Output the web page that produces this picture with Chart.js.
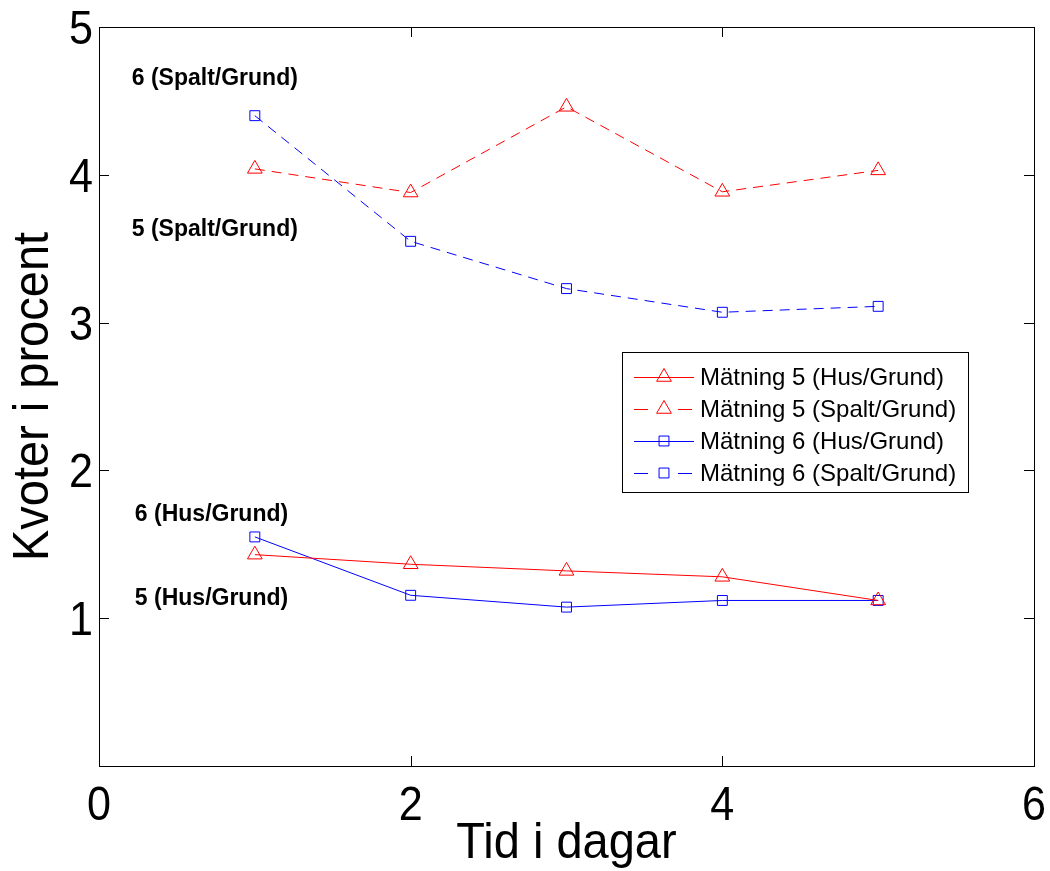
<!DOCTYPE html>
<html>
<head>
<meta charset="utf-8">
<script src="https://cdn.jsdelivr.net/npm/chart.js@4/dist/chart.umd.min.js"></script>
<style>
  html, body { margin: 0; padding: 0; background: #fff; }
  #wrap { width: 1050px; height: 871px; position: relative; }
</style>
</head>
<body>
<div id="wrap"><canvas id="chart"></canvas></div>
<script>
// ── Data ──────────────────────────────────────────────────────
const days = [1, 2, 3, 4, 5];
const m5Hus   = [1.43, 1.365, 1.32, 1.28, 1.12];
const m5Spalt = [4.04, 3.88, 4.46, 3.885, 4.03];
const m6Hus   = [1.55, 1.155, 1.075, 1.12, 1.12];
const m6Spalt = [4.40, 3.55, 3.23, 3.07, 3.11];
const seriesNames = [
    'Mätning 5 (Hus/Grund)',
    'Mätning 5 (Spalt/Grund)',
    'Mätning 6 (Hus/Grund)',
    'Mätning 6 (Spalt/Grund)'
];
const xTicks = [0, 2, 4, 6];
const yTicks = [0, 1, 2, 3, 4, 5];
const yTickLabels = ['', '1', '2', '3', '4', '5'];
const noteTexts = ['6 (Spalt/Grund)', '5 (Spalt/Grund)', '6 (Hus/Grund)', '5 (Hus/Grund)'];
const noteX = [0.21, 0.21, 0.23, 0.23];
const noteY = [4.65, 3.63, 1.70, 1.13];

const RED = '#ff0000';
const BLUE = '#0000ff';
const DASH = [10, 7];
const SANS = "'Liberation Sans', Arial, Helvetica, sans-serif";

const pts = arr => arr.map((v, i) => ({ x: days[i], y: v }));

function makeSet(label, data, color, dashed, shape) {
    return {
        label,
        data: pts(data),
        borderColor: color,
        backgroundColor: 'rgba(0,0,0,0)',
        borderWidth: 1,
        borderDash: dashed ? DASH : [],
        pointStyle: shape,
        pointRadius: shape === 'triangle' ? 8.5 : 7,
        pointBorderColor: color,
        pointBorderWidth: 1,
        pointBackgroundColor: 'rgba(0,0,0,0)',
        tension: 0,
        fill: false
    };
}

// narrow (horizontally squeezed) text, like the stretched figure fonts
function narrowText(ctx, text, x, y, size, squeeze, align, rotate) {
    ctx.save();
    ctx.translate(x, y);
    if (rotate) ctx.rotate(-Math.PI / 2);
    ctx.scale(squeeze, 1);
    ctx.font = size + 'px ' + SANS;
    ctx.textAlign = align;
    ctx.fillText(text, 0, 0);
    ctx.restore();
}

// ── Box, inward ticks, labels, notes and legend ──────────────
const matlabLook = {
    id: 'matlabLook',
    afterDatasetsDraw(chart) {
        const { ctx, chartArea: a, scales } = chart;
        const xs = scales.x, ys = scales.y;
        ctx.save();
        ctx.strokeStyle = '#000';
        ctx.lineWidth = 1;
        ctx.strokeRect(Math.round(a.left) + 0.5, Math.round(a.top) + 0.5,
            Math.round(a.right - a.left), Math.round(a.bottom - a.top));

        const tl = 10;
        ctx.beginPath();
        xTicks.forEach(v => {
            const px = Math.round(xs.getPixelForValue(v)) + 0.5;
            ctx.moveTo(px, a.bottom); ctx.lineTo(px, a.bottom - tl);
            ctx.moveTo(px, a.top); ctx.lineTo(px, a.top + tl);
        });
        yTicks.forEach(v => {
            const py = Math.round(ys.getPixelForValue(v)) + 0.5;
            ctx.moveTo(a.left, py); ctx.lineTo(a.left + tl, py);
            ctx.moveTo(a.right, py); ctx.lineTo(a.right - tl, py);
        });
        ctx.stroke();

        // tick labels and axis titles
        ctx.fillStyle = '#000';
        ctx.textBaseline = 'alphabetic';
        xTicks.forEach(v => {
            narrowText(ctx, String(v), xs.getPixelForValue(v), a.bottom + 54, 49, 0.88, 'center');
        });
        yTicks.forEach((v, i) => {
            narrowText(ctx, yTickLabels[i], a.left - 6, ys.getPixelForValue(v) + 17, 49, 0.88, 'right');
        });
        narrowText(ctx, 'Tid i dagar', (a.left + a.right) / 2, 858, 50, 0.94, 'center');
        narrowText(ctx, 'Kvoter i procent', 48, (a.top + a.bottom) / 2, 50, 0.94, 'center', true);

        // bold notes
        ctx.font = "bold 23px " + SANS;
        ctx.textBaseline = 'middle';
        ctx.textAlign = 'left';
        noteTexts.forEach((t, i) => {
            ctx.fillText(t, xs.getPixelForValue(noteX[i]), ys.getPixelForValue(noteY[i]));
        });

        // legend box
        const lx = 622, ly = 352, lw = 346, lh = 140;
        ctx.fillStyle = '#fff';
        ctx.fillRect(lx, ly, lw, lh);
        ctx.strokeStyle = '#000';
        ctx.strokeRect(lx + 0.5, ly + 0.5, lw, lh);
        ctx.font = "24px " + SANS;
        chart.data.datasets.forEach((ds, i) => {
            const cy = ly + 25 + i * 32;
            ctx.strokeStyle = ds.borderColor;
            ctx.lineWidth = 1;
            ctx.setLineDash(ds.borderDash.length ? [14, 30] : []);
            ctx.beginPath();
            ctx.moveTo(634, cy + 0.5); ctx.lineTo(694, cy + 0.5);
            ctx.stroke();
            ctx.setLineDash([]);
            ctx.fillStyle = 'rgba(0,0,0,0)';
            Chart.helpers.drawPoint(ctx, {
                pointStyle: ds.pointStyle, radius: ds.pointRadius,
                borderWidth: 1, rotation: 0
            }, 664, cy);
            ctx.fillStyle = '#000';
            ctx.fillText(ds.label, 700, cy + 1);
        });
        ctx.restore();
    }
};

new Chart(document.getElementById('chart'), {
    type: 'line',
    data: {
        datasets: [
            makeSet(seriesNames[0], m5Hus, RED, false, 'triangle'),
            makeSet(seriesNames[1], m5Spalt, RED, true, 'triangle'),
            makeSet(seriesNames[2], m6Hus, BLUE, false, 'rect'),
            makeSet(seriesNames[3], m6Spalt, BLUE, true, 'rect')
        ]
    },
    options: {
        responsive: true,
        maintainAspectRatio: false,
        animation: false,
        layout: { padding: { top: 27, right: 16, left: 0, bottom: 0 } },
        plugins: {
            legend: { display: false },
            tooltip: { enabled: false }
        },
        scales: {
            x: {
                type: 'linear',
                min: 0, max: 6,
                afterBuildTicks: s => { s.ticks = xTicks.map(v => ({ value: v })); },
                afterFit: s => { s.height = 105; },
                grid: { display: false, drawTicks: false },
                border: { display: false },
                ticks: { display: false }
            },
            y: {
                type: 'linear',
                min: 0, max: 5,
                afterBuildTicks: s => { s.ticks = yTicks.map(v => ({ value: v })); },
                afterFit: s => { s.width = 99; },
                grid: { display: false, drawTicks: false },
                border: { display: false },
                ticks: { display: false }
            }
        }
    },
    plugins: [matlabLook]
});
</script>
</body>
</html>
